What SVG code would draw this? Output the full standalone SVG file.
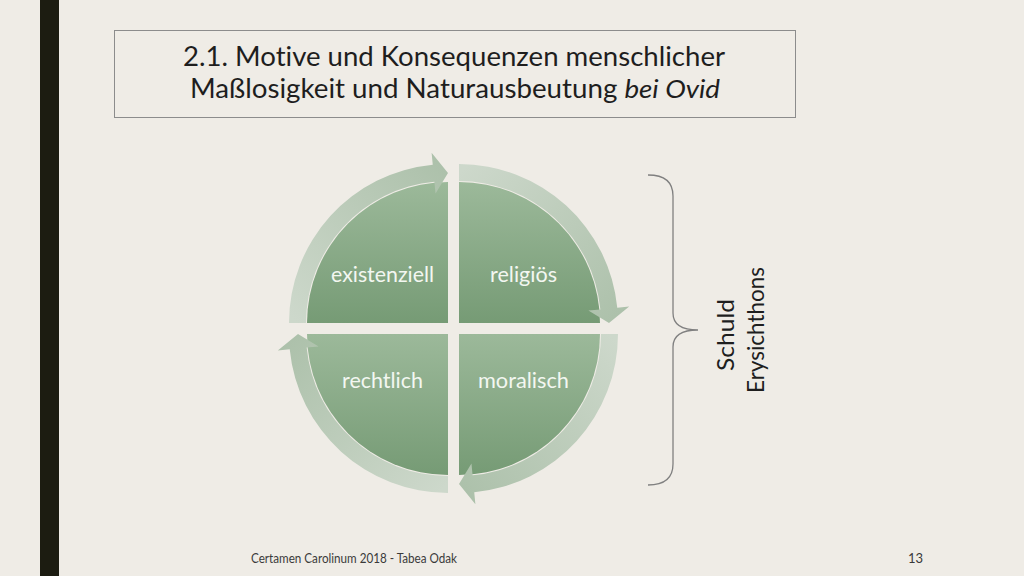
<svg xmlns="http://www.w3.org/2000/svg" xmlns:xlink="http://www.w3.org/1999/xlink" width="1024" height="576" viewBox="0 0 1024 576">
  <style>
    text { font-variant-ligatures: none; font-feature-settings: "liga" 0, "clig" 0; }
    .title { font-family: Lato, "Open Sans", "Liberation Sans", sans-serif; font-size: 26px; fill: #1e1e1e; text-anchor: middle; }
    .qtext { font-family: Lato, "Open Sans", "Liberation Sans", sans-serif; font-size: 21px; fill: #f3f7f1; text-anchor: middle; }
    .side { font-family: Lato, "Open Sans", "Liberation Sans", sans-serif; font-size: 24px; fill: #1e1e1e; text-anchor: middle; }
    .foot { font-family: Lato, "Open Sans", "Liberation Sans", sans-serif; font-size: 13px; fill: #3a3a3a; text-anchor: middle; }
    .quad { fill: url(#quadGrad); }
    .ring { fill: url(#ringGrad); }
  </style>
  <defs>
    <linearGradient id="quadGrad" x1="0" y1="0" x2="0" y2="1">
      <stop offset="0" stop-color="#9cb99a"/>
      <stop offset="1" stop-color="#769b75"/>
    </linearGradient>
    <linearGradient id="ringGrad" gradientUnits="userSpaceOnUse" x1="-150" y1="0" x2="0" y2="-150">
      <stop offset="0" stop-color="#cdd8cb"/>
      <stop offset="1" stop-color="#adc1ab"/>
    </linearGradient>
    <path id="ringShape" d="M -159,0 A 159 159 0 0 1 -15.24,-158.27 L -16.39,-170.21 L 0,-150 L -12.46,-129.40 L -13.61,-141.35 A 142 142 0 0 0 -142,0 Z"/>
  </defs>

  <rect width="1024" height="576" fill="#efece6"/>
  <rect x="40" y="0" width="19" height="576" fill="#1c1c11"/>

  <g id="title">
    <rect x="114.5" y="30.5" width="681" height="87" fill="none" stroke="#8c8c8c" stroke-width="1"/>
    <text class="title" x="454" y="66" textLength="542" lengthAdjust="spacingAndGlyphs">2.1. Motive und Konsequenzen menschlicher</text>
    <text class="title" x="455" y="98" textLength="530" lengthAdjust="spacingAndGlyphs">Maßlosigkeit und Naturausbeutung <tspan font-style="italic">bei Ovid</tspan></text>
  </g>

  <g id="node-existenziell">
    <path class="quad" d="M448,323 L307,323 A141 141 0 0 1 448,182 Z"/>
    <text class="qtext" x="382.5" y="282" textLength="103" lengthAdjust="spacingAndGlyphs">existenziell</text>
  </g>
  <g id="node-religioes">
    <path class="quad" d="M459,323 L459,182 A141 141 0 0 1 600,323 Z"/>
    <text class="qtext" x="523.5" y="282" textLength="67" lengthAdjust="spacingAndGlyphs">religiös</text>
  </g>
  <g id="node-moralisch">
    <path class="quad" d="M459,334 L600,334 A141 141 0 0 1 459,475 Z"/>
    <text class="qtext" x="523.5" y="388" textLength="91" lengthAdjust="spacingAndGlyphs">moralisch</text>
  </g>
  <g id="node-rechtlich">
    <path class="quad" d="M448,334 L448,475 A141 141 0 0 1 307,334 Z"/>
    <text class="qtext" x="382.5" y="388" textLength="81" lengthAdjust="spacingAndGlyphs">rechtlich</text>
  </g>

  <g id="connectors">
    <use xlink:href="#ringShape" class="ring" transform="translate(448,323)"/>
    <use xlink:href="#ringShape" class="ring" transform="translate(459,323) rotate(90)"/>
    <use xlink:href="#ringShape" class="ring" transform="translate(459,334) rotate(180)"/>
    <use xlink:href="#ringShape" class="ring" transform="translate(448,334) rotate(270)"/>
  </g>

  <g id="brace">
    <path d="M648,175 Q673,175 673,196 L673,313 Q673,330 698,330 Q673,330 673,347 L673,464 Q673,485 648,485" fill="none" stroke="#808080" stroke-width="1.3"/>
    <text class="side" transform="translate(734,335) rotate(-90)" textLength="72" lengthAdjust="spacingAndGlyphs">Schuld</text>
    <text class="side" transform="translate(764,330) rotate(-90)" textLength="126" lengthAdjust="spacingAndGlyphs">Erysichthons</text>
  </g>

  <g id="footer">
    <text class="foot" x="354" y="563" textLength="206" lengthAdjust="spacingAndGlyphs">Certamen Carolinum 2018 - Tabea Odak</text>
    <text class="foot" x="915.5" y="563">13</text>
  </g>
</svg>
